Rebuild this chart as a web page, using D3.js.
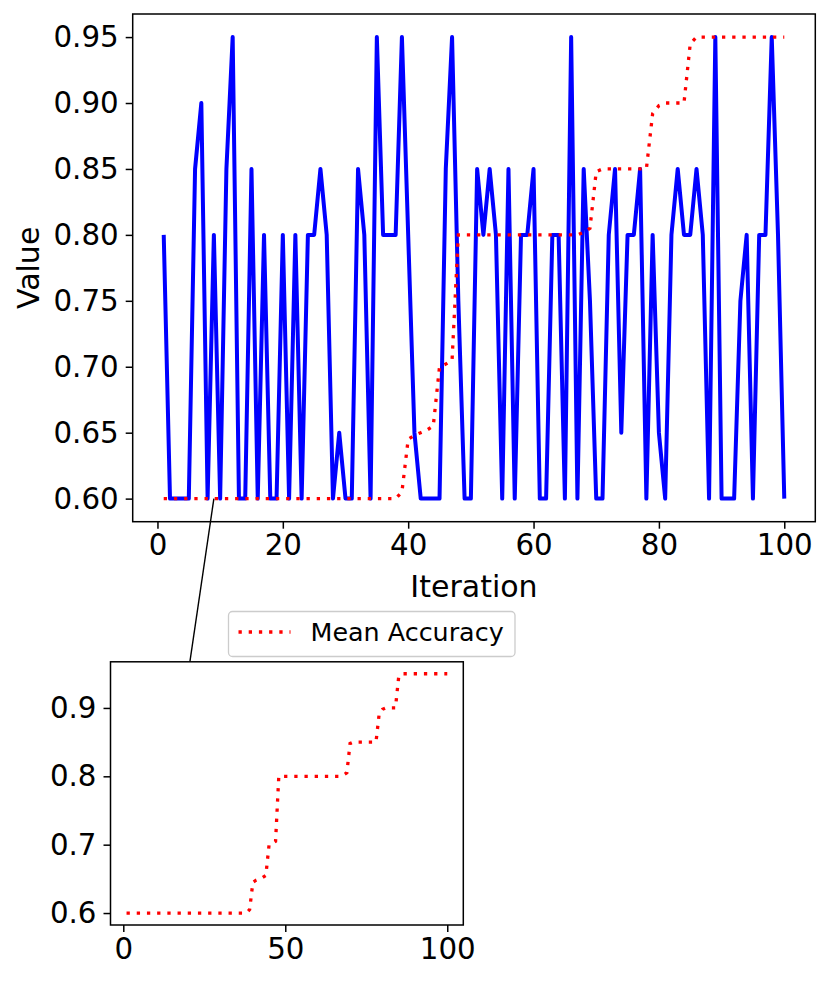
<!DOCTYPE html>
<html>
<head>
<meta charset="utf-8">
<script src="https://cdn.jsdelivr.net/npm/d3@7"></script>
<style>
  body { margin: 0; background: #fff; }
  text { font-family: "DejaVu Sans", sans-serif; fill: #000; }
</style>
</head>
<body>
<div id="chart"></div>
<script>
// iteration index and the two series
const iterations = d3.range(1, 101);

const values = [
  0.80, 0.60, 0.60, 0.60, 0.60, 0.85, 0.90, 0.60, 0.80, 0.60,
  0.85, 0.95, 0.60, 0.60, 0.85, 0.60, 0.80, 0.60, 0.60, 0.80,
  0.60, 0.80, 0.60, 0.80, 0.80, 0.85, 0.80, 0.60, 0.65, 0.60,
  0.60, 0.85, 0.80, 0.60, 0.95, 0.80, 0.80, 0.80, 0.95, 0.80,
  0.65, 0.60, 0.60, 0.60, 0.60, 0.85, 0.95, 0.75, 0.60, 0.60,
  0.85, 0.80, 0.85, 0.80, 0.60, 0.85, 0.60, 0.80, 0.80, 0.85,
  0.60, 0.60, 0.80, 0.80, 0.60, 0.95, 0.60, 0.85, 0.75, 0.60,
  0.60, 0.80, 0.85, 0.65, 0.80, 0.80, 0.85, 0.60, 0.80, 0.65,
  0.60, 0.80, 0.85, 0.80, 0.80, 0.85, 0.80, 0.60, 0.95, 0.60,
  0.60, 0.60, 0.75, 0.80, 0.60, 0.80, 0.80, 0.95, 0.80, 0.60
];

const meanAccuracy = [
  0.60, 0.60, 0.60, 0.60, 0.60, 0.60, 0.60, 0.60, 0.60, 0.60,
  0.60, 0.60, 0.60, 0.60, 0.60, 0.60, 0.60, 0.60, 0.60, 0.60,
  0.60, 0.60, 0.60, 0.60, 0.60, 0.60, 0.60, 0.60, 0.60, 0.60,
  0.60, 0.60, 0.60, 0.60, 0.60, 0.60, 0.60, 0.60, 0.605, 0.645,
  0.648, 0.65, 0.652, 0.655, 0.70, 0.702, 0.705, 0.80, 0.80, 0.80,
  0.80, 0.80, 0.80, 0.80, 0.80, 0.80, 0.80, 0.80, 0.80, 0.80,
  0.80, 0.80, 0.80, 0.80, 0.80, 0.80, 0.80, 0.802, 0.805, 0.848,
  0.85, 0.85, 0.85, 0.85, 0.85, 0.85, 0.85, 0.85, 0.892, 0.898,
  0.90, 0.90, 0.90, 0.90, 0.945, 0.95, 0.95, 0.95, 0.95, 0.95,
  0.95, 0.95, 0.95, 0.95, 0.95, 0.95, 0.95, 0.95, 0.95, 0.95
];

const mainXTicks = [0, 20, 40, 60, 80, 100];
const mainYTicks = [0.60, 0.65, 0.70, 0.75, 0.80, 0.85, 0.90, 0.95];
const insetXTicks = [0, 50, 100];
const insetYTicks = [0.6, 0.7, 0.8, 0.9];
const legendLabel = 'Mean Accuracy';
const zoomPoint = { x: 9, y: 0.60 };   // where the connector leaves the main plot

const W = 830, H = 983;
const svg = d3.select('#chart').append('svg')
  .attr('width', W).attr('height', H);

const TICK_FONT = 29.3;

// matplotlib style auto limits: 5% margin around the data
function padded(lo, hi) {
  const m = (hi - lo) * 0.05;
  return [lo - m, hi + m];
}
const xDomain = padded(d3.min(iterations), d3.max(iterations));

// ---- main axes ----
const main = { left: 132.7, right: 815.3, top: 14, bottom: 521.7 };
const xMain = d3.scaleLinear().domain(xDomain).range([main.left, main.right]);
const yMain = d3.scaleLinear()
  .domain(padded(d3.min(values.concat(meanAccuracy)), d3.max(values.concat(meanAccuracy))))
  .range([main.bottom, main.top]);

// ---- inset axes ----
const inset = { left: 110.5, right: 463.3, top: 661.8, bottom: 925 };
const xInset = d3.scaleLinear().domain(xDomain).range([inset.left, inset.right]);
const yInset = d3.scaleLinear()
  .domain(padded(d3.min(meanAccuracy), d3.max(meanAccuracy)))
  .range([inset.bottom, inset.top]);

function styleAxis(g) {
  g.select('.domain').remove();
  g.selectAll('.tick line').attr('stroke', '#000').attr('stroke-width', 1.5);
  g.selectAll('.tick text')
    .style('font-family', '"DejaVu Sans", sans-serif')
    .style('font-size', TICK_FONT + 'px')
    .attr('fill', '#000');
}

function drawFrame(box) {
  svg.append('rect')
    .attr('x', box.left).attr('y', box.top)
    .attr('width', box.right - box.left)
    .attr('height', box.bottom - box.top)
    .attr('fill', 'none')
    .attr('stroke', '#000')
    .attr('stroke-width', 1.5);
}

const lineMain = (ys) => d3.line()
  .x((d, i) => xMain(iterations[i]))
  .y(d => yMain(d))(ys);

// blue series
svg.append('path')
  .attr('d', lineMain(values))
  .attr('fill', 'none')
  .attr('stroke', '#0000ff')
  .attr('stroke-width', 4)
  .attr('stroke-linejoin', 'round');

// red dotted mean
svg.append('path')
  .attr('d', lineMain(meanAccuracy))
  .attr('fill', 'none')
  .attr('stroke', '#ff0000')
  .attr('stroke-width', 3.3)
  .attr('stroke-dasharray', '3.3,6.9');

drawFrame(main);

svg.append('g')
  .attr('transform', `translate(0,${main.bottom})`)
  .call(d3.axisBottom(xMain).tickValues(mainXTicks).tickSize(7).tickPadding(6).tickFormat(d3.format('d')))
  .call(styleAxis);

svg.append('g')
  .attr('transform', `translate(${main.left},0)`)
  .call(d3.axisLeft(yMain).tickValues(mainYTicks).tickSize(7).tickPadding(7).tickFormat(d3.format('.2f')))
  .call(styleAxis);

// axis labels
svg.append('text')
  .attr('x', (main.left + main.right) / 2)
  .attr('y', 596.5)
  .attr('text-anchor', 'middle')
  .style('font-size', '30px')
  .text('Iteration');

svg.append('text')
  .attr('transform', `translate(38.5,${(main.top + main.bottom) / 2}) rotate(-90)`)
  .attr('text-anchor', 'middle')
  .style('font-size', '30px')
  .text('Value');

// ---- inset ----
svg.append('path')
  .attr('d', d3.line()
    .x((d, i) => xInset(iterations[i]))
    .y(d => yInset(d))(meanAccuracy))
  .attr('fill', 'none')
  .attr('stroke', '#ff0000')
  .attr('stroke-width', 3.3)
  .attr('stroke-dasharray', '3.3,6.9');

drawFrame(inset);

svg.append('g')
  .attr('transform', `translate(0,${inset.bottom})`)
  .call(d3.axisBottom(xInset).tickValues(insetXTicks).tickSize(7).tickPadding(6).tickFormat(d3.format('d')))
  .call(styleAxis);

svg.append('g')
  .attr('transform', `translate(${inset.left},0)`)
  .call(d3.axisLeft(yInset).tickValues(insetYTicks).tickSize(7).tickPadding(7).tickFormat(d3.format('.1f')))
  .call(styleAxis);

// connector from the main plot down to the inset
svg.append('line')
  .attr('x1', xMain(zoomPoint.x)).attr('y1', yMain(zoomPoint.y))
  .attr('x2', inset.left + (inset.right - inset.left) * 0.225).attr('y2', inset.top)
  .attr('stroke', '#000')
  .attr('stroke-width', 1.4);

// ---- legend ----
const legend = svg.append('g').attr('transform', 'translate(228.5,611.5)');
legend.append('rect')
  .attr('width', 286.5).attr('height', 45)
  .attr('rx', 4).attr('ry', 4)
  .attr('fill', '#fff').attr('fill-opacity', 0.8)
  .attr('stroke', '#cccccc').attr('stroke-width', 1.3);
legend.append('line')
  .attr('x1', 10).attr('x2', 62)
  .attr('y1', 20.5).attr('y2', 20.5)
  .attr('stroke', '#ff0000')
  .attr('stroke-width', 3.3)
  .attr('stroke-dasharray', '3.3,6.9');
legend.append('text')
  .attr('x', 82).attr('y', 20.5)
  .attr('dy', '0.36em')
  .style('font-size', '25.4px')
  .text(legendLabel);
</script>
</body>
</html>
